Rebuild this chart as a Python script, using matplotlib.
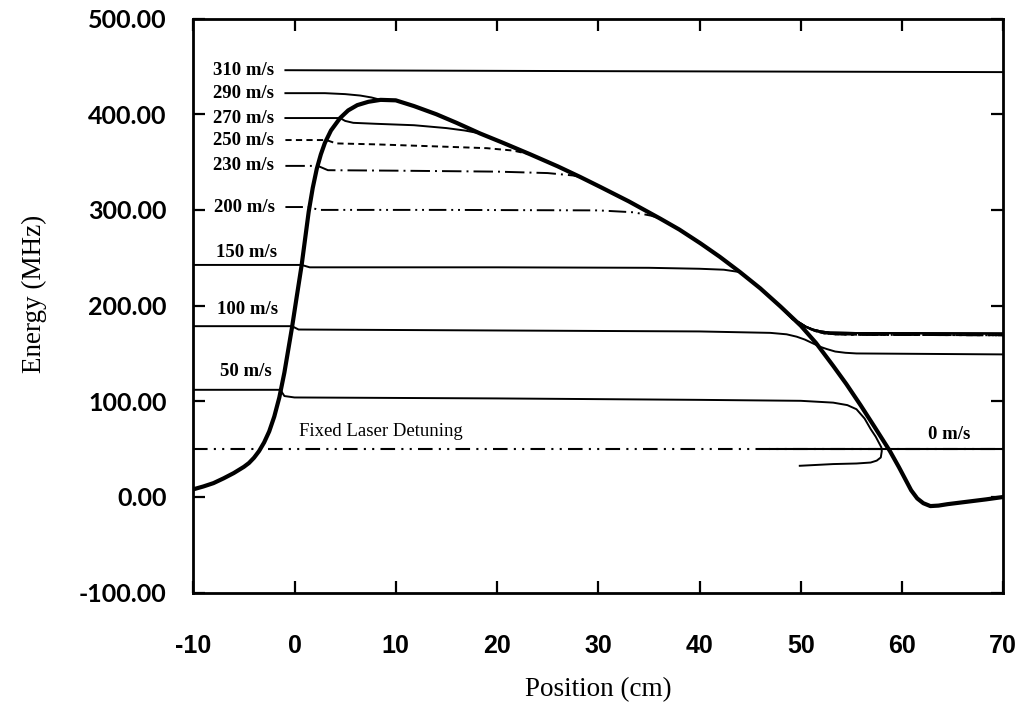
import numpy as np
import matplotlib
matplotlib.use("Agg")
import matplotlib.pyplot as plt

# Resonance energy of the slower field along the beam axis
field_x = [-10, -9, -8, -7, -6, -5, -4.5, -4, -3.5, -3,
           -2.5, -2, -1.5, -1.0, -0.6, -0.25, 0.2, 0.7, 1.0, 1.4,
           1.8, 2.2, 2.6, 3.0, 3.6, 4.5, 5.3, 6.2, 7.3, 8.5,
           10, 11.8, 14, 16, 18.3, 20.5, 23.3, 26, 28.2, 30.2,
           33, 36.1, 38, 40.1, 42, 44, 46, 48, 50, 51.5,
           53.2, 54.5, 55.9, 57.3, 58.8, 59.7, 60.1, 60.9, 61.5, 62.1,
           62.8, 63.6, 64.5, 66.4, 68.3, 70]
field_e = [8, 11, 14.5, 19.5, 25, 31.5, 35.5, 41, 48, 57,
           68.5, 84, 104, 130, 155, 177, 208, 242, 266, 298,
           323, 343, 358, 370, 383, 396, 404, 409.5, 413, 415,
           414.5, 408.5, 400, 391, 380, 370.5, 358, 345.5, 334.5, 324,
           309, 291, 279.5, 265, 251, 235, 218, 199, 179, 161,
           137, 118, 96, 73, 48, 31, 23, 7, -1.5, -6.5,
           -9.5, -9, -7.5, -5, -2.5, 0]

laser_detuning = 50.0
zero_v_x = [47, 70]
zero_v_e = [50, 50]

# Atom trajectories: free flight before capture, then release after the field
v310_x = [-0.9, 30, 70]
v310_e = [446, 445, 444]

v290_x = [-0.9, 3.0, 5.0, 6.5, 7.6]
v290_e = [422, 422, 421, 419.5, 417.5]
v290_cap = 8.5

v270_x = [-0.9, 4.5, 5.0, 5.8, 8, 11.8, 15, 16.8]
v270_e = [396, 396, 393, 391, 390, 388.5, 385.5, 383]
v270_cap = 18.3

v250_x = [-0.9, 3.15, 4.1, 8, 15, 19, 21.6]
v250_e = [373, 373, 369.5, 368.5, 366, 364.5, 362]
v250_cap = 23.3

v230_x = [-0.9, 2.3, 3.3, 10, 20, 25, 27.5]
v230_e = [346, 346, 341.5, 341, 340, 338.5, 336]
v230_cap = 28.2

v200_x = [-0.9, 1.45, 2.4, 15, 30, 33.5, 35.2]
v200_e = [303, 303, 300, 300, 299.5, 297.5, 294]
v200_cap = 36.1

v150_x = [-10, 0.7, 1.5, 20, 35, 40, 42.4]
v150_e = [242.5, 242.5, 240, 240, 239.5, 238.5, 237.5]
v150_cap = 44

v100_x = [-10, -0.25, 0.4, 20, 40, 47, 48.6, 49.6, 50.4, 51.2, 51.9,
          52.6, 53.4, 54.4, 55.5, 70]
v100_e = [178.5, 178.5, 175, 174, 173, 171.5, 170, 167.5, 164.5, 160.5, 157,
          154.5, 152, 150.7, 150, 149]

v50_x = [-10, -1.4, -1.0, 0, 20, 40, 50, 53.2, 54.6, 55.5, 56.3, 56.9,
         57.4, 57.7, 57.95, 58.0, 57.9, 57.5, 56.9, 55.5, 53.2, 49.9]
v50_e = [112, 112, 105.5, 104, 103, 101.5, 100.5, 98.6, 96, 91.7, 82, 71,
         63, 57, 52, 48, 41.3, 38, 36, 35, 34.4, 32.6]

release_a_x = [49.2, 49.9, 50.5, 51.2, 52.0, 52.9, 56, 70]
release_a_e = [186, 182, 178, 175, 173, 171.8, 171.3, 170.8]
release_b_x = [49.2, 49.9, 50.6, 51.4, 52.3, 53.5, 56, 70]
release_b_e = [186, 181.5, 177, 173.5, 171, 170, 169.5, 169]

x_ticks = [-10, 0, 10, 20, 30, 40, 50, 60, 70]
x_tick_labels = ["-10", "0", "10", "20", "30", "40", "50", "60", "70"]
y_ticks = [-100, 0, 100, 200, 300, 400, 500]
y_tick_labels = ["-100.00", "0.00", "100.00", "200.00", "300.00", "400.00", "500.00"]

SERIF = "Liberation Serif"
fx = np.asarray(field_x, float)
fe = np.asarray(field_e, float)


def captured(pre_x, pre_e, cap_x, rel_x, rel_e):
    """Free flight, then riding the field profile, then free flight again."""
    m = (fx >= cap_x) & (fx < rel_x[0])
    return (np.concatenate([pre_x, fx[m], rel_x]),
            np.concatenate([pre_e, fe[m], rel_e]))


fig = plt.figure(figsize=(10.22, 7.07), dpi=100)
ax = fig.add_axes([0.1891, 0.1617, 0.9817 - 0.1891, 0.9738 - 0.1617])

lw = 1.4
solid = "-"
dashed = (0, (3.2, 2.2))
dash_dot = (0, (10, 2.6, 1, 2.6))
dash_dot_dot = (0, (9, 2.5, 1, 2.5, 1, 2.5))

# Laser detuning reference
ax.plot([-10, 70], [laser_detuning, laser_detuning], color="black", lw=1.5,
        linestyle=(0, (7, 3, 1, 3, 1, 3)))
ax.plot(zero_v_x, zero_v_e, color="black", lw=1.5)

ax.plot(v310_x, v310_e, color="black", lw=lw, linestyle=solid)
for px_, pe_, cap, rx, re_, ls in [
        (v290_x, v290_e, v290_cap, release_a_x, release_a_e, solid),
        (v270_x, v270_e, v270_cap, release_a_x, release_a_e, solid),
        (v250_x, v250_e, v250_cap, release_b_x, release_b_e, dashed),
        (v230_x, v230_e, v230_cap, release_b_x, release_b_e, dash_dot),
        (v200_x, v200_e, v200_cap, release_b_x, release_b_e, dash_dot_dot),
        (v150_x, v150_e, v150_cap, release_a_x, release_a_e, solid)]:
    tx, te = captured(px_, pe_, cap, rx, re_)
    ax.plot(tx, te, color="black", lw=lw, linestyle=ls)
ax.plot(v100_x, v100_e, color="black", lw=lw)
ax.plot(v50_x, v50_e, color="black", lw=lw)

# Field profile on top
ax.plot(field_x, field_e, color="black", lw=3.0, solid_capstyle="round",
        solid_joinstyle="round")

# Velocity labels
lab_kw = dict(family=SERIF, fontsize=13.5, fontweight="bold", color="black")
for txt, x, y in [("310 m/s", -2.0, 446), ("290 m/s", -2.0, 422),
                  ("270 m/s", -2.0, 396), ("250 m/s", -2.0, 373),
                  ("230 m/s", -2.0, 346), ("200 m/s", -1.9, 303),
                  ("150 m/s", -1.7, 256), ("100 m/s", -1.6, 195.5),
                  ("50 m/s", -2.2, 131)]:
    ax.text(x, y, txt, ha="right", va="center", **lab_kw)
ax.text(0.45, 68.5, "Fixed Laser Detuning", ha="left", va="center",
        family=SERIF, fontsize=13.5, color="black")
ax.text(62.6, 65, "0 m/s", ha="left", va="center", **lab_kw)

ax.set_xlim(-10, 70)
ax.set_ylim(-100, 500)
ax.set_xticks(x_ticks)
ax.set_xticklabels(x_tick_labels, family="Liberation Sans", fontweight="bold",
                   fontsize=18)
ax.set_yticks(y_ticks)
ax.set_yticklabels(y_tick_labels, family="Lato", fontweight="bold", fontsize=18)
ax.tick_params(direction="in", length=8.5, width=1.6, top=True, right=True)
ax.tick_params(axis="x", pad=30)
ax.tick_params(axis="y", pad=19)
for s in ax.spines.values():
    s.set_linewidth(2.0)

ax.set_xlabel("Position (cm)", family=SERIF, fontsize=19.5)
ax.set_ylabel("Energy (MHz)", family=SERIF, fontsize=19.5)
ax.xaxis.set_label_coords(0.5, -0.169)
ax.xaxis.label.set_va("center")
ax.yaxis.set_label_coords(-0.196, 0.52)
ax.yaxis.label.set_va("center")

fig.savefig("out.png", dpi=100)
